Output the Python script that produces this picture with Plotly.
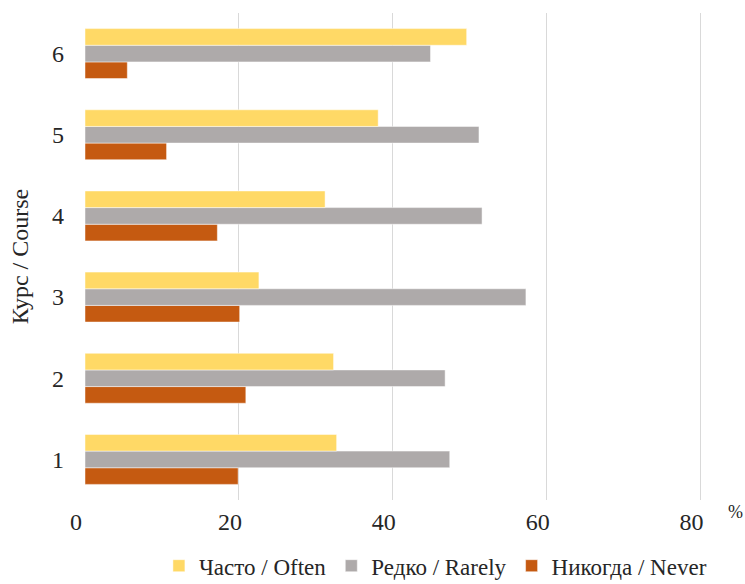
import plotly.graph_objects as go

courses = ["1", "2", "3", "4", "5", "6"]
often = [32.7, 32.3, 22.6, 31.2, 38.1, 49.6]
rarely = [47.4, 46.8, 57.3, 51.6, 51.2, 44.9]
never = [19.9, 20.9, 20.1, 17.2, 10.6, 5.5]
x_ticks = [0, 20, 40, 60, 80]

names = ["Часто / Often", "Редко / Rarely", "Никогда / Never"]
colors = ["#FFD966", "#AEAAAA", "#C55A11"]

font = "Liberation Serif"

fig = go.Figure()
# Plotly stacks horizontal grouped bars bottom-up, so add Never first
for vals, name, col in [(never, names[2], colors[2]), (rarely, names[1], colors[1]), (often, names[0], colors[0])]:
    fig.add_trace(go.Bar(
        y=courses, x=vals, name=name, orientation="h",
        marker=dict(color=col, line=dict(color="rgba(255,255,255,0.6)", width=0.8)),
    ))

fig.update_layout(
    width=745, height=584,
    margin=dict(l=85, r=0, t=13, b=84, autoexpand=False),
    barmode="group", bargap=0.385, bargroupgap=0,
    plot_bgcolor="white", paper_bgcolor="white",
    font=dict(family=font, color="#262626"),
    showlegend=True,
    legend=dict(orientation="h", traceorder="reversed", x=0.112, xanchor="left",
                y=-0.135, yanchor="middle", font=dict(size=23, family=font),
                itemwidth=30, bgcolor="rgba(0,0,0,0)", tracegroupgap=0),
    xaxis=dict(range=[0, 85.77], tickvals=x_ticks, showgrid=True, gridcolor="#D9D9D9",
               gridwidth=1, zeroline=False, showline=False, automargin=False,
               tickfont=dict(size=24, family=font),
               ticklabelshift=-9, ticklabelstandoff=5, ticks=""),
    yaxis=dict(range=[-0.5, 5.5], showgrid=False, zeroline=False, showline=False,
               automargin=False,
               tickfont=dict(size=24, family=font), ticks="", ticklabelstandoff=20,
               title=dict(text="Курс / Course", font=dict(size=24, family=font), standoff=16)),
    annotations=[dict(text="%", x=1.0, xref="paper", y=0.0, yref="paper",
                      xanchor="right", yanchor="top", showarrow=False,
                      font=dict(size=18, family=font, color="#262626"))],
)

fig.write_html("out.html")
